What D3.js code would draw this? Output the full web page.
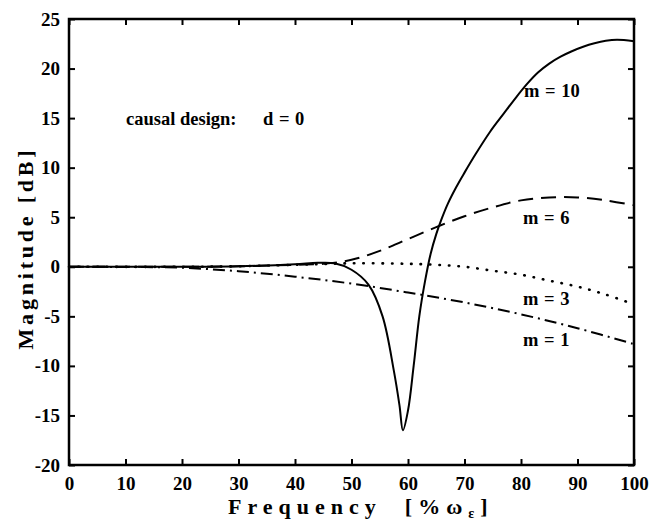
<!DOCTYPE html>
<html>
<head>
<meta charset="utf-8">
<script src="https://cdn.jsdelivr.net/npm/d3@7/dist/d3.min.js"></script>
<style>
  body { margin: 0; background: #fff; }
  svg { display: block; }
  text { font-family: "Liberation Serif", "DejaVu Serif", serif; fill: #000; }
</style>
</head>
<body>
<svg id="chart" width="655" height="523"></svg>
<script>
// frequency [% of w] and magnitude [dB]
const m10Freq = [0, 10, 20, 30, 40, 44, 47, 50, 53, 55.5, 57.5, 58.5, 59.1, 60, 61, 62, 63, 64, 65, 66, 67, 68.5, 70, 72, 74.5, 77, 79, 81, 83, 85, 87, 89, 91, 93, 95, 97, 100];
const m10Mag = [0, 0, 0, 0.05, 0.25, 0.4, 0.35, -0.3, -1.8, -5, -10.5, -14, -16.5, -14.5, -10, -5, -1.5, 1.3, 3.3, 4.9, 6.3, 8.0, 9.5, 11.4, 13.6, 15.5, 17.0, 18.4, 19.6, 20.5, 21.2, 21.75, 22.2, 22.55, 22.8, 22.9, 22.75];
const m6Freq = [0, 20, 30, 40, 45, 50, 55, 60, 65, 70, 75, 80, 85, 90, 95, 100];
const m6Mag = [0, 0, 0.05, 0.2, 0.3, 0.7, 1.6, 2.8, 4.0, 5.1, 6.0, 6.7, 7.0, 7.0, 6.7, 6.2];
const m3Freq = [0, 20, 30, 40, 50, 60, 65, 70, 75, 80, 85, 90, 95, 100];
const m3Mag = [0, 0, 0.05, 0.2, 0.35, 0.3, 0.2, 0, -0.4, -0.8, -1.4, -2.0, -2.8, -3.8];
const m1Freq = [0, 10, 20, 30, 40, 50, 60, 70, 80, 90, 100];
const m1Mag = [0, -0.02, -0.1, -0.45, -1.0, -1.7, -2.6, -3.6, -4.8, -6.2, -7.8];

const xTicks = [0, 10, 20, 30, 40, 50, 60, 70, 80, 90, 100];
const yTicks = [-20, -15, -10, -5, 0, 5, 10, 15, 20, 25];

const series = [
  { name: 'm = 10', freq: m10Freq, mag: m10Mag, dash: null, labelAt: [524, 97] },
  { name: 'm = 6', freq: m6Freq, mag: m6Mag, dash: '15,8', labelAt: [523, 224] },
  { name: 'm = 3', freq: m3Freq, mag: m3Mag, dash: '0.5,9', cap: 'round', width: 2.6, labelAt: [523, 305] },
  { name: 'm = 1', freq: m1Freq, mag: m1Mag, dash: '12,5,2,5', labelAt: [523, 346] },
];

const margin = { top: 19, right: 21, bottom: 58, left: 69 };
const width = 655 - margin.left - margin.right;
const height = 523 - margin.top - margin.bottom;

const svg = d3.select('#chart');
const g = svg.append('g').attr('transform', `translate(${margin.left},${margin.top})`);

const x = d3.scaleLinear().domain([0, 100]).range([0, width]);
const y = d3.scaleLinear().domain([-20, 25]).range([height, 0]);

// ticks point inward on all four sides; plain hyphen for negatives
const tickLen = 6;
const fmt = (d) => String(d);
g.append('g')
  .attr('transform', `translate(0,${height})`)
  .call(d3.axisBottom(x).tickValues(xTicks).tickFormat(fmt).tickSizeInner(-tickLen).tickSizeOuter(0).tickPadding(12))
  .call((a) => a.select('.domain').remove());
g.append('g')
  .call(d3.axisLeft(y).tickValues(yTicks).tickFormat(fmt).tickSizeInner(-tickLen).tickSizeOuter(0).tickPadding(9))
  .call((a) => a.select('.domain').remove());
g.append('g')
  .call(d3.axisTop(x).tickValues(xTicks).tickSizeInner(-tickLen).tickSizeOuter(0).tickFormat(''))
  .call((a) => a.select('.domain').remove());
g.append('g')
  .attr('transform', `translate(${width},0)`)
  .call(d3.axisRight(y).tickValues(yTicks).tickSizeInner(-tickLen).tickSizeOuter(0).tickFormat(''))
  .call((a) => a.select('.domain').remove());

g.selectAll('.tick line').attr('stroke', '#000').attr('stroke-width', 2);
g.selectAll('.tick text')
  .style('font-family', '"Liberation Serif", "DejaVu Serif", serif')
  .style('font-size', '19px')
  .style('font-weight', 'bold')
  .attr('fill', '#000');

g.append('rect')
  .attr('width', width)
  .attr('height', height)
  .attr('fill', 'none')
  .attr('stroke', '#000')
  .attr('stroke-width', 2.5);

const line = d3.line()
  .x((d) => x(d[0]))
  .y((d) => y(d[1]))
  .curve(d3.curveCatmullRom.alpha(0.5));

series.forEach((s) => {
  const pts = s.freq.map((f, i) => [f, s.mag[i]]);
  g.append('path')
    .attr('d', line(pts))
    .attr('fill', 'none')
    .attr('stroke', '#000')
    .attr('stroke-width', s.width || 2)
    .attr('stroke-linecap', s.cap || 'butt')
    .attr('stroke-dasharray', s.dash);
  svg.append('text')
    .attr('x', s.labelAt[0])
    .attr('y', s.labelAt[1])
    .style('font-size', '18.5px')
    .style('font-weight', 'bold')
    .attr('word-spacing', 1)
    .text(s.name);
});

svg.append('text')
  .attr('x', 126)
  .attr('y', 125)
  .style('font-size', '18.5px')
  .style('font-weight', 'bold')
  .text('causal design:');
svg.append('text')
  .attr('x', 263)
  .attr('y', 125)
  .style('font-size', '18.5px')
  .style('font-weight', 'bold')
  .attr('word-spacing', 1)
  .text('d = 0');

// axis titles, spaced out like the original
const xTitle = svg.append('text')
  .attr('x', 228)
  .attr('y', 514)
  .style('font-size', '22px')
  .style('font-weight', 'bold')
  .attr('letter-spacing', 6)
  .attr('xml:space', 'preserve');
xTitle.append('tspan').text('Frequency  [%ω');
xTitle.append('tspan').attr('dy', 4).style('font-size', '14px').text('ε');
xTitle.append('tspan').attr('dy', -4).text(']');

svg.append('text')
  .attr('transform', 'translate(33,248) rotate(-90)')
  .attr('text-anchor', 'middle')
  .style('font-size', '22px')
  .style('font-weight', 'bold')
  .attr('letter-spacing', 3.8)
  .text('Magnitude [dB]');
</script>
</body>
</html>
